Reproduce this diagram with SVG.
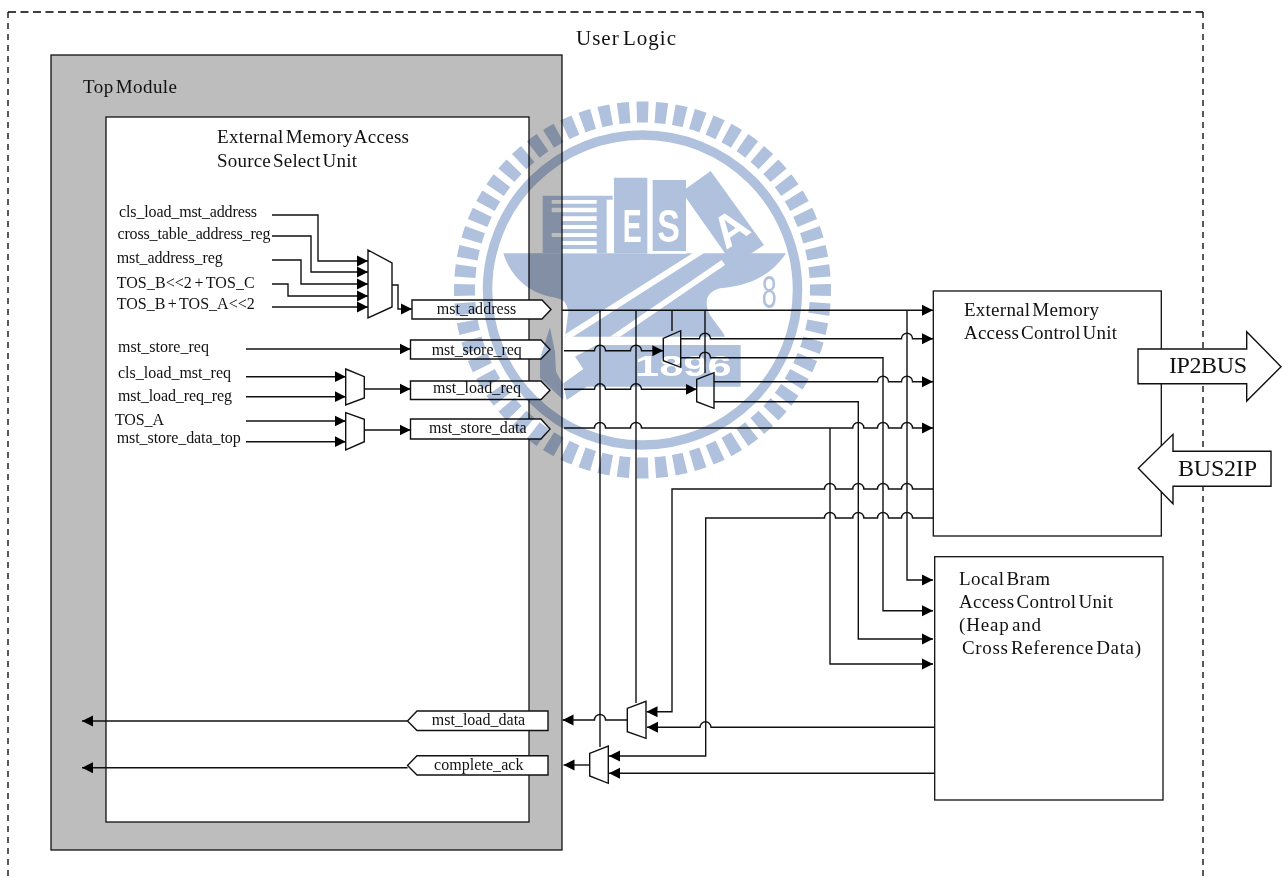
<svg xmlns="http://www.w3.org/2000/svg" width="1283" height="877" viewBox="0 0 1283 877">
<style>
text{font-family:"Liberation Serif","Times New Roman",serif;fill:#111}
.s{font-size:16px;word-spacing:-1.5px}
.m{font-size:19px;word-spacing:-3px}
.l{font-size:24px}
.box{fill:#fff;stroke:#111;stroke-width:1.3}
.tag,.mux{fill:#fff;stroke:#111;stroke-width:1.4}
.w{fill:none;stroke:#111;stroke-width:1.4}
.a{marker-end:url(#arr)}
.wm{fill:#b0c1de}
.wt{fill:#fff;font-family:"Liberation Sans",Arial,sans-serif;font-weight:bold}
.dash{fill:none;stroke:#000;stroke-width:1.3}
</style>
<defs>
<marker id="arr" markerUnits="userSpaceOnUse" markerWidth="11" markerHeight="12" refX="11" refY="6" orient="auto"><path d="M0 0.5L11 6L0 11.5Z" fill="#000"/></marker>
</defs>
<rect width="1283" height="877" fill="#fff"/>
<g id="user-logic">
<path class="dash" d="M8 12H1203" stroke-dasharray="8 4.5"/>
<path class="dash" d="M8 12V877M1203 12V877" stroke-dasharray="6 5"/>
<text x="576" y="45" font-size="21" word-spacing="-3" textLength="100">User Logic</text>
</g>
<g id="top-module">
<rect x="51" y="55" width="511" height="795" fill="#bdbdbd" stroke="#111" stroke-width="1.3"/>
<text x="83" y="92.5" class="m" textLength="94">Top Module</text>
</g>
<g id="source-select-unit">
<rect x="106" y="117" width="423" height="705" class="box"/>
<text x="217" y="143" class="m" textLength="192">External Memory Access</text>
<text x="217" y="166.5" class="m" textLength="140">Source Select Unit</text>
<text x="119" y="216.5" class="s" textLength="138">cls_load_mst_address</text>
<text x="117.5" y="239" class="s" textLength="153">cross_table_address_reg</text>
<text x="116.7" y="263" class="s" textLength="106">mst_address_reg</text>
<text x="116.7" y="288" class="s" textLength="138">TOS_B&lt;&lt;2 + TOS_C</text>
<text x="116.7" y="309" class="s" textLength="138">TOS_B + TOS_A&lt;&lt;2</text>
<text x="118" y="352" class="s" textLength="91">mst_store_req</text>
<text x="118" y="377.5" class="s" textLength="113">cls_load_mst_req</text>
<text x="118" y="400.5" class="s" textLength="114">mst_load_req_reg</text>
<text x="115" y="425" class="s" textLength="49">TOS_A</text>
<text x="116.7" y="443" class="s" textLength="124">mst_store_data_top</text>
</g>
<g id="external-memory-access-control-unit">
<rect x="933.3" y="291" width="228" height="245" class="box"/>
<text x="964" y="316" class="m" textLength="135">External Memory</text>
<text x="964" y="339" class="m" textLength="153">Access Control Unit</text>
</g>
<g id="local-bram-access-control-unit">
<rect x="934.7" y="556.7" width="228.3" height="243.3" class="box"/>
<text x="959" y="585" class="m" textLength="91">Local Bram</text>
<text x="959" y="608" class="m" textLength="154">Access Control Unit</text>
<text x="959" y="631" class="m" textLength="82">(Heap and</text>
<text x="962" y="654" class="m" textLength="179">Cross Reference Data)</text>
</g>
<g id="connectors">
<path class="w a" d="M272 215H318V261H368"/>
<path class="w a" d="M272 236H311V272H368"/>
<path class="w a" d="M272 260H301V284H368"/>
<path class="w a" d="M272 284H288V296H368"/>
<path class="w a" d="M272 307H368"/>
<path class="w a" d="M392 285H398V309H412"/>
<path class="w a" d="M246 349H410.5"/>
<path class="w a" d="M246 376.7H345.7"/>
<path class="w a" d="M246 396.7H345.7"/>
<path class="w a" d="M364.3 389H410.5"/>
<path class="w a" d="M246 421H345.7"/>
<path class="w a" d="M246 441.7H345.7"/>
<path class="w a" d="M364.3 430H410.5"/>
<path class="w a" d="M562 310.3H933"/>
<path class="w" d="M600 310.3V747"/>
<path class="w" d="M636 310.3V703"/>
<path class="w" d="M672 310.3V331"/>
<path class="w" d="M705 310.3V373"/>
<path class="w a" d="M907 310.3V580H933"/>
<path class="w a" d="M564 350.7H594.5a5.5 5.5 0 0 1 11 0H630.5a5.5 5.5 0 0 1 11 0H663.3"/>
<path class="w a" d="M681 338.7H699.5a5.5 5.5 0 0 1 11 0H901.5a5.5 5.5 0 0 1 11 0H933"/>
<path class="w a" d="M681 357.7H699.5a5.5 5.5 0 0 1 11 0H883V610.7H933"/>
<path class="w a" d="M564 389.3H594.5a5.5 5.5 0 0 1 11 0H630.5a5.5 5.5 0 0 1 11 0H696.7"/>
<path class="w a" d="M714 381.7H877.5a5.5 5.5 0 0 1 11 0H901.5a5.5 5.5 0 0 1 11 0H933"/>
<path class="w a" d="M714 401.7H858.3V639H933"/>
<path class="w a" d="M564 428H594.5a5.5 5.5 0 0 1 11 0H630.5a5.5 5.5 0 0 1 11 0H852.8a5.5 5.5 0 0 1 11 0H877.5a5.5 5.5 0 0 1 11 0H901.5a5.5 5.5 0 0 1 11 0H933"/>
<path class="w a" d="M830 428V664H933"/>
<path class="w a" d="M933 489H912.5a5.5 5.5 0 0 0 -11 0H888.5a5.5 5.5 0 0 0 -11 0H863.8a5.5 5.5 0 0 0 -11 0H835.5a5.5 5.5 0 0 0 -11 0H672V711.7H646.5"/>
<path class="w a" d="M933 518H912.5a5.5 5.5 0 0 0 -11 0H888.5a5.5 5.5 0 0 0 -11 0H863.8a5.5 5.5 0 0 0 -11 0H835.5a5.5 5.5 0 0 0 -11 0H705.7V756H609"/>
<path class="w a" d="M934 727.3H711a5.5 5.5 0 0 0 -11 0H647"/>
<path class="w a" d="M934 773.3H609"/>
<path class="w a" d="M627.3 720H605.5a5.5 5.5 0 0 0 -11 0H562.5"/>
<path class="w a" d="M589.7 765H563.5"/>
<path class="w a" d="M407.5 721H82"/>
<path class="w a" d="M407.5 767.7H82"/>
</g>
<g id="mux-address"><path class="mux" d="M368 250L392 263V307L368 318Z"/></g>
<g id="mux-load-req"><path class="mux" d="M345.7 369L364.3 376.7V398L345.7 405Z"/></g>
<g id="mux-store-data"><path class="mux" d="M345.7 412.7L364.3 419.3V441.7L345.7 450Z"/></g>
<g id="mux-a"><path class="mux" d="M663.3 338.3L680.7 330.7V367.3L663.3 360.7Z"/></g>
<g id="mux-b"><path class="mux" d="M696.7 379.3L714 372.7V408.3L696.7 401.7Z"/></g>
<g id="mux-c"><path class="mux" d="M627.3 708.3L646 701.3V738.3L627.3 731.7Z"/></g>
<g id="mux-d"><path class="mux" d="M589.7 753.3L608.3 746V783.3L589.7 776Z"/></g>
<g id="tag-mst-address"><path class="tag" d="M412 300H542L551 309.5L542 319H412Z"/><text x="436.7" y="314" class="s" textLength="79.5">mst_address</text></g>
<g id="tag-mst-store-req"><path class="tag" d="M410.5 340H541L550 349.5L541 359H410.5Z"/><text x="431.7" y="355" class="s" textLength="90">mst_store_req</text></g>
<g id="tag-mst-load-req"><path class="tag" d="M410.5 381H541L550 390.2L541 399.5H410.5Z"/><text x="433" y="393" class="s" textLength="88">mst_load_req</text></g>
<g id="tag-mst-store-data"><path class="tag" d="M410.5 419H541L550 429L541 439H410.5Z"/><text x="429" y="432.7" class="s" textLength="97.7">mst_store_data</text></g>
<g id="tag-mst-load-data"><path class="tag" d="M407.5 721L417 711H548V730.5H417Z"/><text x="431.7" y="725" class="s" textLength="93.5">mst_load_data</text></g>
<g id="tag-complete-ack"><path class="tag" d="M407.5 765.5L417 755.7H548V775H417Z"/><text x="434" y="770" class="s" textLength="89.5">complete_ack</text></g>
<g id="ip2bus"><path class="tag" d="M1138 349H1246.7V331.7L1281 366.7L1246.7 401V383.7H1138Z"/><text x="1169" y="373" class="l" textLength="78">IP2BUS</text></g>
<g id="bus2ip"><path class="tag" d="M1138.3 468.3L1173 434.3V451.3H1271V486.3H1173V503.7Z"/><text x="1178" y="476" class="l" textLength="79">BUS2IP</text></g>
<g id="watermark" style="mix-blend-mode:multiply">
<circle cx="642.5" cy="290" r="178" fill="none" stroke="#b0c1de" stroke-width="21" pathLength="60" stroke-dasharray="0.62 0.38" stroke-dashoffset="0.31"/>
<circle cx="642.5" cy="290" r="155" fill="none" stroke="#b0c1de" stroke-width="9.5"/>
<g transform="translate(500 165) scale(.33333)">
<path class="wm" d="M10 265H858C800 350 720 365 660 370C620 380 610 410 630 450C650 480 670 500 675 515H195L205 440C200 410 190 400 150 395C80 380 30 330 10 265Z"/>
<path fill="#fff" d="M192 510L640 225L650 240L205 524ZM330 515L665 285L675 300L360 515Z"/>
<path fill="#fff" d="M442 258H560V266H442Z"/>
<path class="wm" d="M128 92H338V104H320V265H128Z"/>
<path fill="#fff" d="M155 105H290V116H155ZM155 128H290V142H155ZM185 154H290V168H185ZM185 180H290V192H185ZM155 204H290V216H155ZM185 228H290V240H185ZM185 252H290V265H185Z"/>
<path class="wm" d="M342 38H442V265H342ZM458 45H558V258H458Z"/>
<path class="wm" d="M632 18L792 240L700 300L545 80Z"/>
<text class="wt" x="368" y="230" font-size="138" textLength="57" lengthAdjust="spacingAndGlyphs">E</text>
<text class="wt" x="472" y="230" font-size="138" textLength="68" lengthAdjust="spacingAndGlyphs">S</text>
<text class="wt" transform="translate(718 228) rotate(-35)" font-size="135" text-anchor="middle">A</text>
<path class="wm" d="M290 540H722V665H260L200 705L190 655L250 612L225 575Z"/>
<path class="wm" d="M150 487L120 580V640L190 705V660L168 620L165 560Z"/>
<text class="wt" x="405" y="632" font-size="88" textLength="290" lengthAdjust="spacingAndGlyphs">1896</text>
<text x="785" y="428" font-size="138" textLength="45" lengthAdjust="spacingAndGlyphs" style="fill:#b0c1de;font-family:'Liberation Sans',sans-serif">8</text>
</g>
</g>
</svg>
